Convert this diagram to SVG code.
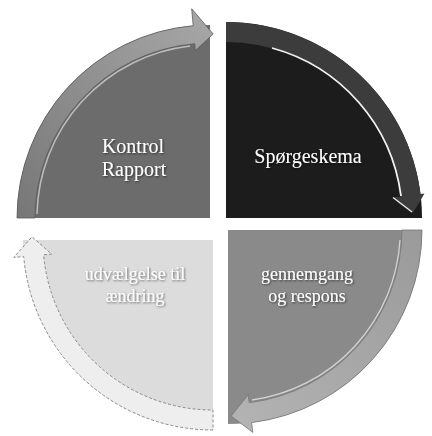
<svg xmlns="http://www.w3.org/2000/svg" width="432" height="436" viewBox="0 0 432 436">
  <defs>
    <filter id="sh" x="-10%" y="-10%" width="120%" height="130%">
      <feDropShadow dx="1" dy="1" stdDeviation="0.8" flood-color="#000" flood-opacity="0.6"/>
    </filter>
    <linearGradient id="gTL" x1="0" y1="1" x2="1" y2="0">
      <stop offset="0" stop-color="#777"/>
      <stop offset="1" stop-color="#a8a8a8"/>
    </linearGradient>
    <linearGradient id="gBR" x1="1" y1="0" x2="0" y2="1">
      <stop offset="0" stop-color="#9a9a9a"/>
      <stop offset="1" stop-color="#b4b4b4"/>
    </linearGradient>
  </defs>
  <style>
    .lbl { font-family: "Liberation Serif", "DejaVu Serif", serif; font-size: 20px; fill: #ffffff; text-anchor: middle; }
    .sm { font-size: 18px; }
    .shadow { filter: url(#sh); }
  </style>
  <rect width="432" height="436" fill="#ffffff"/>

  <g id="node-kontrol">
    <path d="M210,218 L17,218 A193,193 0 0 1 210,25 Z" fill="#6c6c6c"/>
    <path d="M17,218 A193,193 0 0 1 193.2,25.7 L191.7,8.8 L213.2,34 L195.4,50.6 L194.7,43.7 A175,175 0 0 0 35,218 Z" fill="url(#gTL)" stroke="#5a5a5a" stroke-width="0.8"/>
    <path d="M37,214 A173,173 0 0 1 190,46" fill="none" stroke="#e0e0e0" stroke-width="1.5" opacity="0.7"/>
    <text class="lbl shadow" x="133" y="153">Kontrol</text>
    <text class="lbl shadow" x="134" y="176">Rapport</text>
  </g>

  <g id="node-spoergeskema">
    <path d="M226,218 L226,22 A196,196 0 0 1 422,218 Z" fill="#1c1c1c"/>
    <path d="M226,22 A196,196 0 0 1 420.5,194.1 L424.5,193.6 L412.9,213.1 L392.7,197.5 L400.7,196.6 A176,176 0 0 0 226,42 Z" fill="#3c3c3c"/>
    <path d="M272,48 A177,177 0 0 1 401,196" fill="none" stroke="#f2f2f2" stroke-width="1.8"/>
    <path d="M393,197.5 L412,212" fill="none" stroke="#e8e8e8" stroke-width="1.5"/>
    <text class="lbl shadow" x="308" y="163">Spørgeskema</text>
  </g>

  <g id="node-gennemgang">
    <path d="M228,230 L422,230 A194,194 0 0 1 228,424 Z" fill="#8a8a8a"/>
    <path d="M422,230 A194,194 0 0 1 251.6,422.6 L252.9,432.5 L231.2,416 L248.2,394.8 L249.2,402.7 A174,174 0 0 0 402,230 Z" fill="url(#gBR)" stroke="#777" stroke-width="0.8"/>
    <path d="M400,240 A172,172 0 0 1 252,400" fill="none" stroke="#e6e6e6" stroke-width="1.3" opacity="0.8"/>
    <text class="lbl sm shadow" x="307" y="280">gennemgang</text>
    <text class="lbl sm shadow" x="307" y="302">og respons</text>
  </g>

  <g id="node-udvaelgelse">
    <path d="M213,240 L213,430 A190,190 0 0 1 23,240 Z" fill="#dcdcdc"/>
    <path d="M213,430 A190,190 0 0 1 23.7,256.6 L13.8,257.4 L32,236.8 L51.6,254.1 L43.6,254.8 A170,170 0 0 0 213,410 Z" fill="#eeeeee" stroke="#8a8a8a" stroke-width="1" stroke-dasharray="3,2"/>
    <text class="lbl sm" x="135" y="280" style="filter:url(#sh);opacity:0.9">udvælgelse til</text>
    <text class="lbl sm" x="135" y="302" style="filter:url(#sh);opacity:0.9">ændring</text>
  </g>

  <g id="connectors"></g>
</svg>
